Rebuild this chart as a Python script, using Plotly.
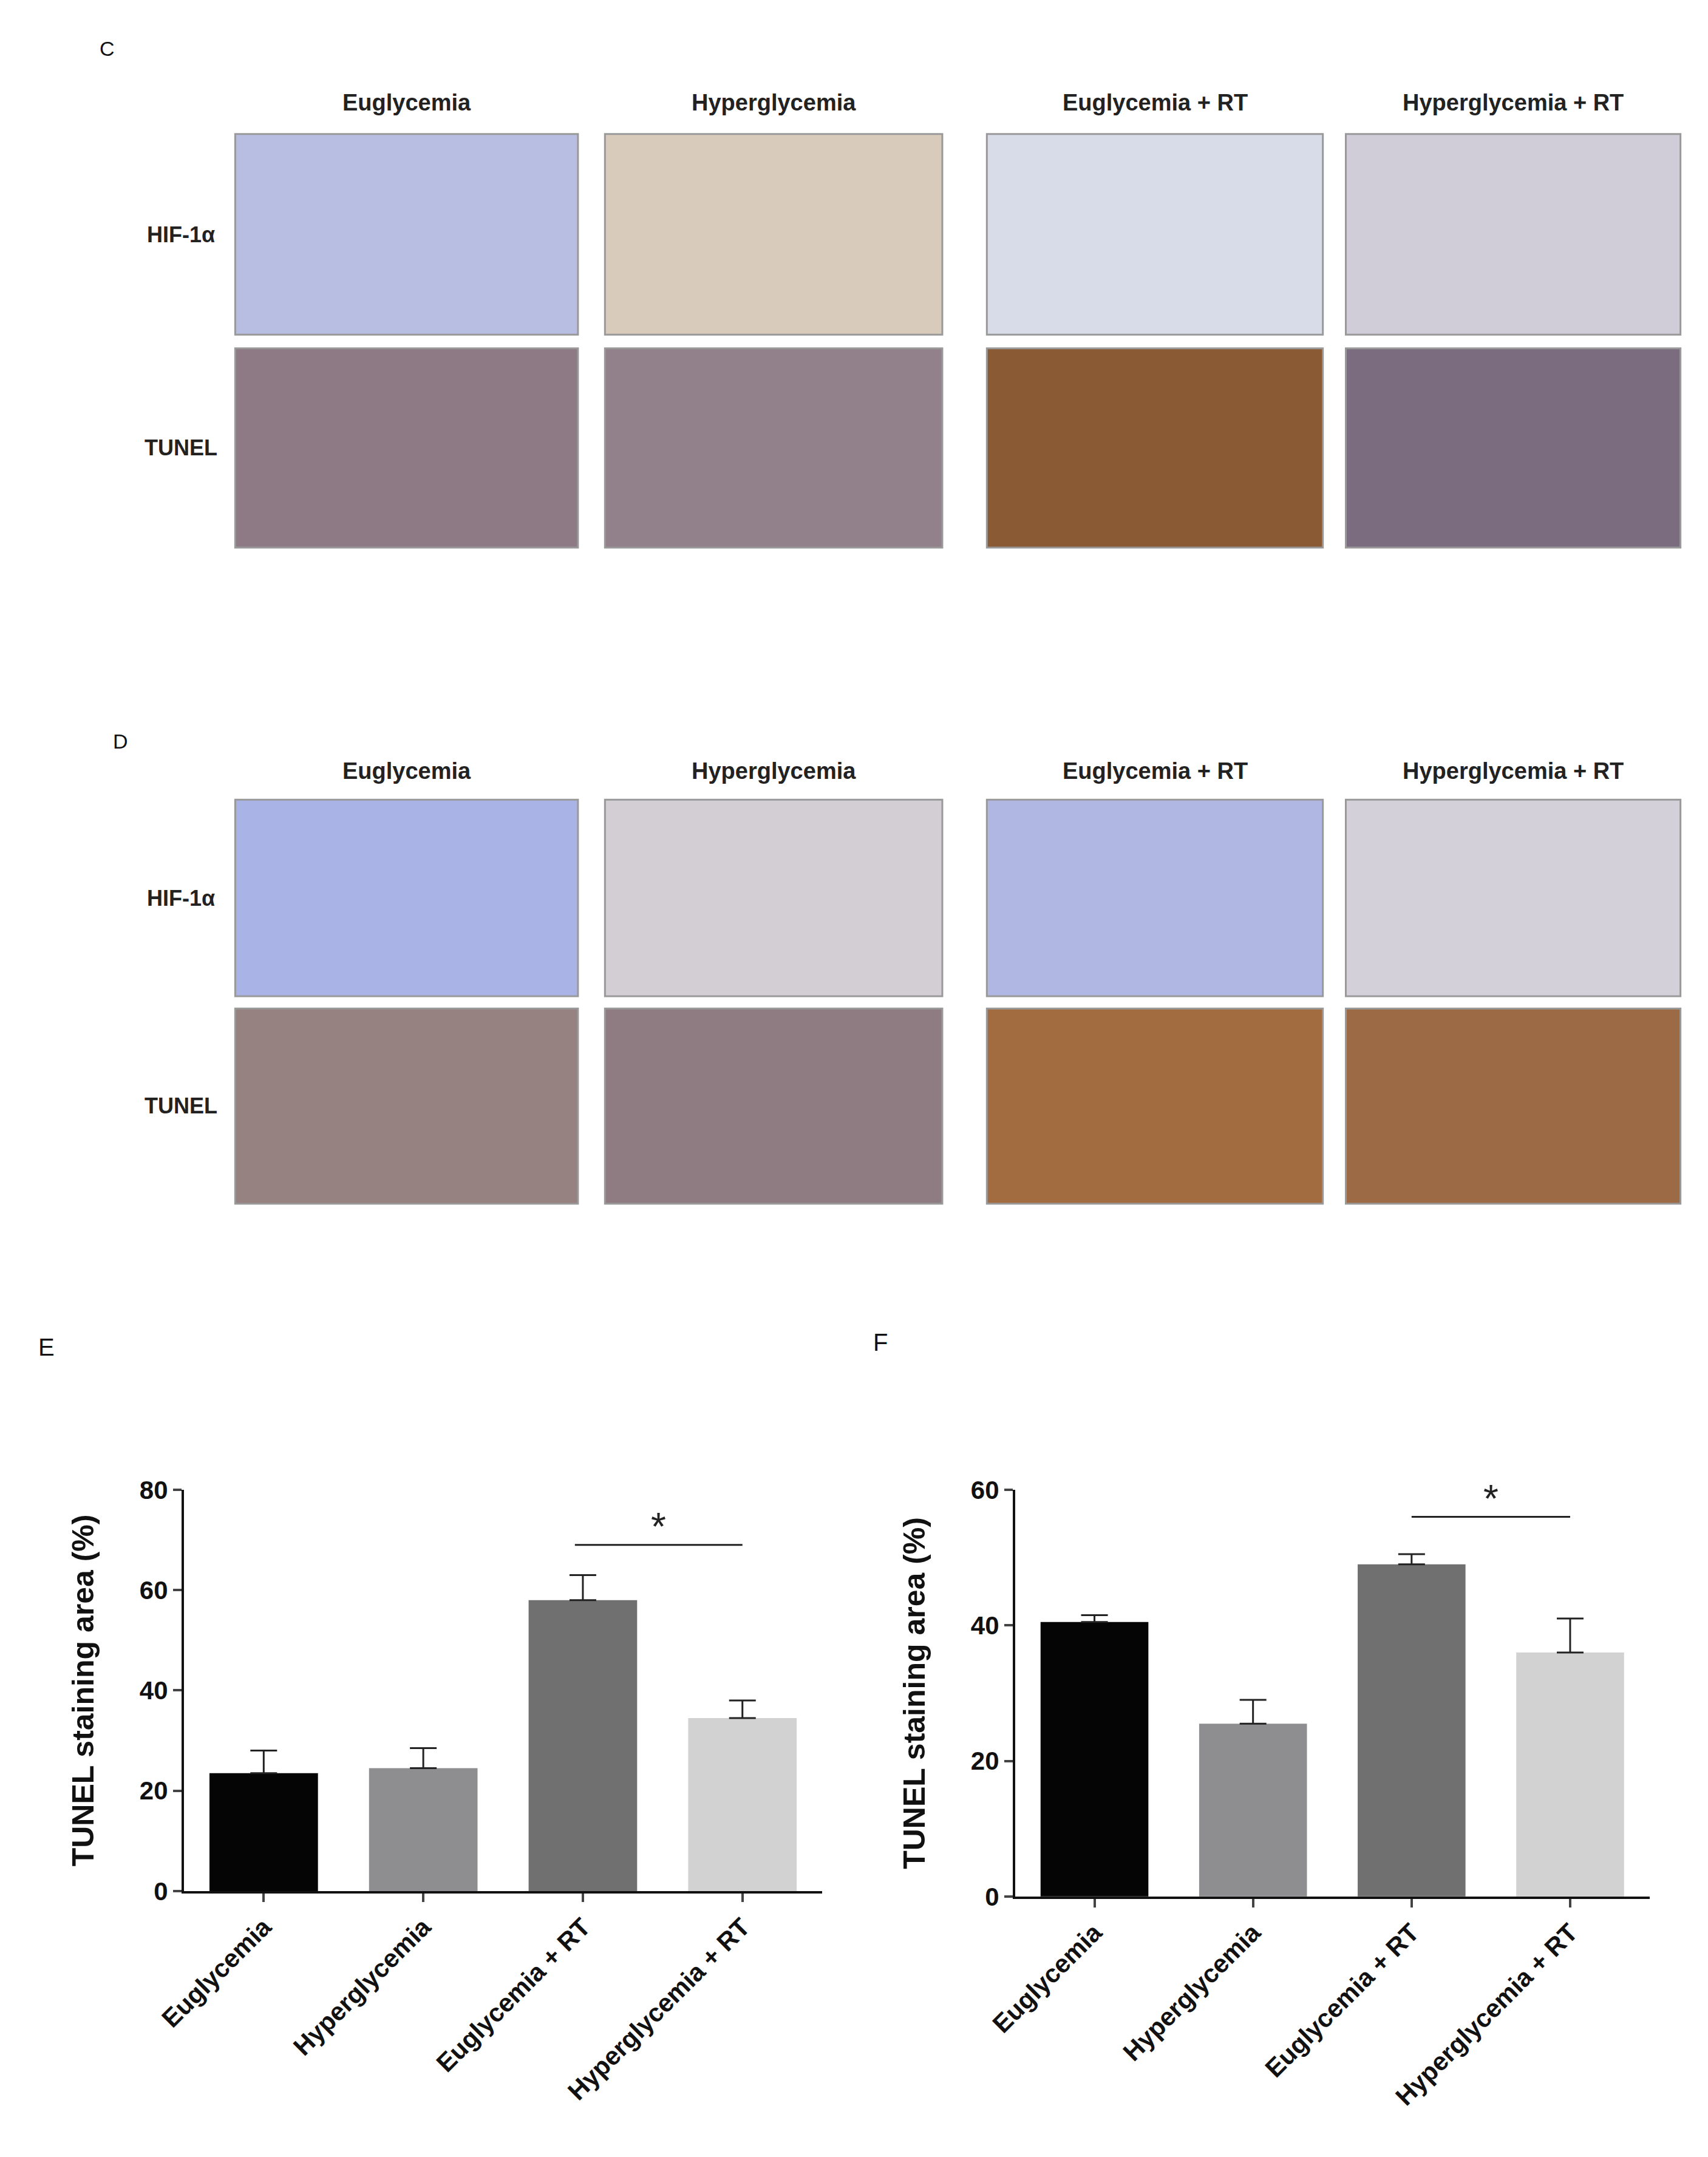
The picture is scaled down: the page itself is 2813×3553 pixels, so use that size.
import plotly.graph_objects as go

groups = ["Euglycemia", "Hyperglycemia", "Euglycemia + RT", "Hyperglycemia + RT"]
bar_colors = ["#050505", "#8e8e90", "#707070", "#d2d2d2"]

e_values = [23.5, 24.5, 58.0, 34.5]
e_upper = [28.0, 28.5, 63.0, 38.0]
f_values = [40.5, 25.5, 49.0, 36.0]
f_upper = [41.5, 29.0, 50.5, 41.0]

# approximate average tint of each micrograph (rows: HIF-1a, TUNEL)
c_tints = [["#b8bee2", "#d8cbbb", "#d8dbe8", "#d0ccd8"],
           ["#8e7a84", "#92808a", "#8a5a34", "#7c6c80"]]
d_tints = [["#aab3e6", "#d3ced4", "#b0b7e2", "#d4d0da"],
           ["#978282", "#8e7c82", "#a26c40", "#9c6a44"]]

W, H = 1245.0, 1570.0  # reference coordinate frame


def px(x):
    return x / W


def py(y):
    return 1 - y / H


fig = go.Figure()
font = "Liberation Sans, Arial, sans-serif"
ann = []
shapes = []


def panel(letter, lx, ly, head_y, cols, rows, tints):
    ann.append(dict(x=px(lx), y=py(ly), text=letter, showarrow=False,
                    font=dict(size=34, color="#111")))
    for (x0, x1), g in zip(cols, groups):
        ann.append(dict(x=px((x0 + x1) / 2), y=py(head_y), text=f"<b>{g}</b>",
                        showarrow=False, font=dict(size=38, color="#222")))
    for r, ((y0, y1), lab) in enumerate(zip(rows, ["HIF-1α", "TUNEL"])):
        ann.append(dict(x=px(110), y=py((y0 + y1) / 2), text=f"<b>{lab}</b>",
                        showarrow=False, font=dict(size=36, color="#222")))
        for c, (x0, x1) in enumerate(cols):
            shapes.append(dict(type="rect", xref="paper", yref="paper",
                               x0=px(x0), x1=px(x1), y0=py(y1), y1=py(y0),
                               fillcolor=tints[r][c], line=dict(color="#999", width=3)))


cols = [(150, 404), (424, 674), (707, 956), (973, 1221)]
panel("C", 55, 22, 62, cols, [(85, 233), (243, 390)], c_tints)
panel("D", 65, 533, 555, cols, [(576, 721), (730, 874)], d_tints)

ann.append(dict(x=px(10), y=py(980), text="E", showarrow=False, font=dict(size=40, color="#111")))
ann.append(dict(x=px(628), y=py(976), text="F", showarrow=False, font=dict(size=40, color="#111")))

for vals, up, xa, ya in [(e_values, e_upper, "x", "y"), (f_values, f_upper, "x2", "y2")]:
    fig.add_trace(go.Bar(
        x=groups, y=vals, marker=dict(color=bar_colors, line=dict(width=0)),
        width=0.68, xaxis=xa, yaxis=ya, showlegend=False,
        error_y=dict(type="data", symmetric=False,
                     array=[u - v for u, v in zip(up, vals)],
                     arrayminus=[0] * 4, color="#222", thickness=3, width=22)))

axis_common = dict(showline=True, linewidth=4, linecolor="#111", ticks="outside",
                   ticklen=14, tickwidth=4, showgrid=False, zeroline=False,
                   tickfont=dict(size=42, color="#111", family=font, weight="bold"))
ytitle = dict(text="<b>TUNEL staining area (%)</b>", font=dict(size=50, color="#111"), standoff=60)
fig.update_layout(
    xaxis=dict(domain=[px(112), px(585)], anchor="y", tickangle=-45, **axis_common),
    yaxis=dict(domain=[py(1381), py(1085)], anchor="x", range=[0, 80], dtick=20,
               title=ytitle, **axis_common),
    xaxis2=dict(domain=[px(728), px(1198)], anchor="y2", tickangle=-45, **axis_common),
    yaxis2=dict(domain=[py(1385), py(1085)], anchor="x2", range=[0, 60], dtick=20,
                title=ytitle, **axis_common),
)

# significance brackets
for xa, ya, ymark, x0 in [("x", "y", 69, 1.95), ("x2", "y2", 56, 2.0)]:
    fig.add_shape(type="line", xref=xa, yref=ya, x0=x0, x1=3.0, y0=ymark, y1=ymark,
                  line=dict(color="#222", width=3))
    fig.add_annotation(x=(x0 + 3.0) / 2, y=ymark, xref=xa, yref=ya, text="*", showarrow=False,
                       yshift=30, font=dict(size=64, color="#222"))

fig.update_layout(
    width=2813, height=3553, margin=dict(l=0, r=0, t=0, b=0),
    paper_bgcolor="white", plot_bgcolor="white",
    font=dict(family=font, color="#111"),
    annotations=list(fig.layout.annotations)
    + [dict(xref="paper", yref="paper", xanchor="center", yanchor="middle", **a) for a in ann],
    shapes=list(fig.layout.shapes) + shapes,
)

fig.write_html("out.html")
